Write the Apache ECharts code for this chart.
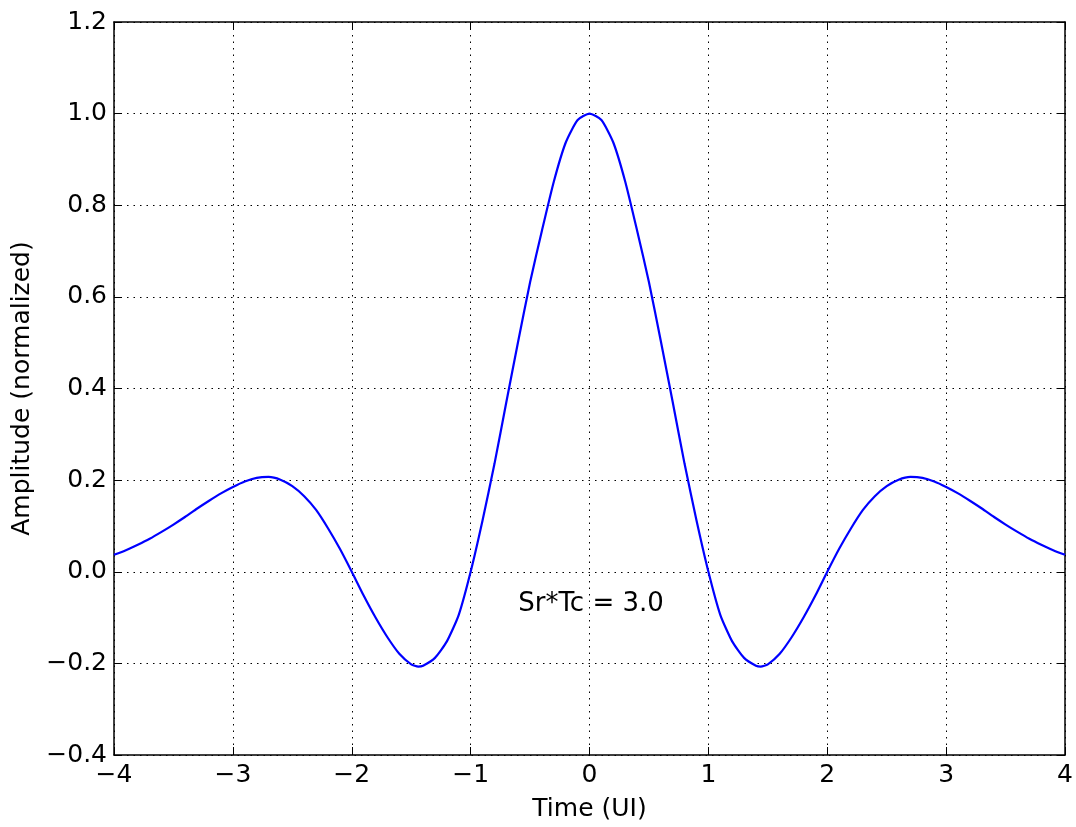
<!DOCTYPE html>
<html>
<head>
<meta charset="utf-8">
<script src="https://cdn.jsdelivr.net/npm/echarts@6/dist/echarts.min.js"></script>
<style>
html,body{margin:0;padding:0;background:#fff;}
#chart{width:1076px;height:827px;}
</style>
</head>
<body>
<div id="chart"></div>
<script>
// Time samples (UI)
const timeUI = [-4.0,-3.9,-3.8,-3.7,-3.6,-3.5,-3.4,-3.3,-3.2,-3.1,-3.0,-2.9,-2.8,-2.7,-2.6,-2.5,-2.4,-2.3,-2.2,-2.1,-2.0,-1.9,-1.8,-1.7,-1.6,-1.5,-1.44,-1.4,-1.3,-1.2,-1.1,-1.0,-0.9,-0.8,-0.7,-0.6,-0.5,-0.4,-0.3,-0.2,-0.1,0.0,0.1,0.2,0.3,0.4,0.5,0.6,0.7,0.8,0.9,1.0,1.1,1.2,1.3,1.4,1.44,1.5,1.6,1.7,1.8,1.9,2.0,2.1,2.2,2.3,2.4,2.5,2.6,2.7,2.8,2.9,3.0,3.1,3.2,3.3,3.4,3.5,3.6,3.7,3.8,3.9,4.0];
// Normalized amplitude
const amplitude = [0.037,0.047,0.059,0.072,0.087,0.103,0.120,0.138,0.155,0.171,0.185,0.197,0.205,0.207,0.201,0.187,0.165,0.135,0.095,0.050,0.000,-0.052,-0.100,-0.143,-0.179,-0.202,-0.207,-0.205,-0.188,-0.152,-0.094,0.000,0.112,0.235,0.370,0.503,0.632,0.745,0.852,0.937,0.986,1.000,0.986,0.937,0.852,0.745,0.632,0.503,0.370,0.235,0.112,0.000,-0.094,-0.152,-0.188,-0.205,-0.207,-0.202,-0.179,-0.143,-0.100,-0.052,0.000,0.050,0.095,0.135,0.165,0.187,0.201,0.207,0.205,0.197,0.185,0.171,0.155,0.138,0.120,0.103,0.087,0.072,0.059,0.047,0.037];
const xTicks = {min:-4, max:4, interval:1};
const yTicks = {min:-0.4, max:1.2, interval:0.2};
const annotationText = 'Sr*Tc = 3.0';
const annotationPos = [-0.6, -0.1];
const xTitle = 'Time (UI)';
const yTitle = 'Amplitude (normalized)';

const FONT = 'DejaVu Sans';
const FS = 25;
const fmtX = v => String(Math.round(v)).replace('-', '\u2212');
const fmtY = v => (Math.abs(v) < 1e-9 ? '0.0' : v.toFixed(1).replace('-', '\u2212'));

const chart = echarts.init(document.getElementById('chart'), null, {renderer:'canvas'});
const axisCommon = {
  axisLine:{show:true, onZero:false, lineStyle:{color:'#000', width:1.5}},
  axisTick:{show:true, inside:true, length:8, lineStyle:{color:'#000', width:1}},
};
chart.setOption({
  animation:false,
  backgroundColor:'#fff',
  grid:{left:114, right:10, top:22, bottom:68, containLabel:false},
  xAxis:[
    Object.assign({type:'value', position:'bottom', min:xTicks.min, max:xTicks.max, interval:xTicks.interval,
      name:xTitle, nameLocation:'middle', nameGap:42,
      nameTextStyle:{fontFamily:FONT, fontSize:FS, color:'#000'},
      axisLabel:{fontFamily:FONT, fontSize:FS, color:'#000', margin:8, formatter:fmtX},
      splitLine:{show:true, lineStyle:{color:'#000', type:[1.5,5], width:1}}}, axisCommon),
    Object.assign({type:'value', position:'top', min:xTicks.min, max:xTicks.max, interval:xTicks.interval,
      axisLabel:{show:false}, splitLine:{show:false}}, axisCommon)
  ],
  yAxis:[
    Object.assign({type:'value', position:'left', min:yTicks.min, max:yTicks.max, interval:yTicks.interval,
      name:yTitle, nameLocation:'middle', nameGap:79, nameRotate:90,
      nameTextStyle:{fontFamily:FONT, fontSize:FS, color:'#000'},
      axisLabel:{fontFamily:FONT, fontSize:FS, color:'#000', margin:7, formatter:fmtY},
      splitLine:{show:true, lineStyle:{color:'#000', type:[1.5,5], width:1}}}, axisCommon),
    Object.assign({type:'value', position:'right', min:yTicks.min, max:yTicks.max, interval:yTicks.interval,
      axisLabel:{show:false}, splitLine:{show:false}}, axisCommon)
  ],
  series:[
    {type:'line', xAxisIndex:0, yAxisIndex:0, data:timeUI.map((t,i)=>[t, amplitude[i]]),
      showSymbol:false, symbol:'none', smooth:0.2,
      lineStyle:{color:'#0000ff', width:2.2}, z:5}
  ]
});
const p = chart.convertToPixel({xAxisIndex:0, yAxisIndex:0}, annotationPos);
chart.setOption({
  graphic:[{type:'text', x:p[0], y:p[1], z:10,
    style:{text:annotationText, fontFamily:FONT, fontSize:26, fill:'#000',
      textAlign:'left', textVerticalAlign:'bottom'}}]
});
</script>
</body>
</html>
